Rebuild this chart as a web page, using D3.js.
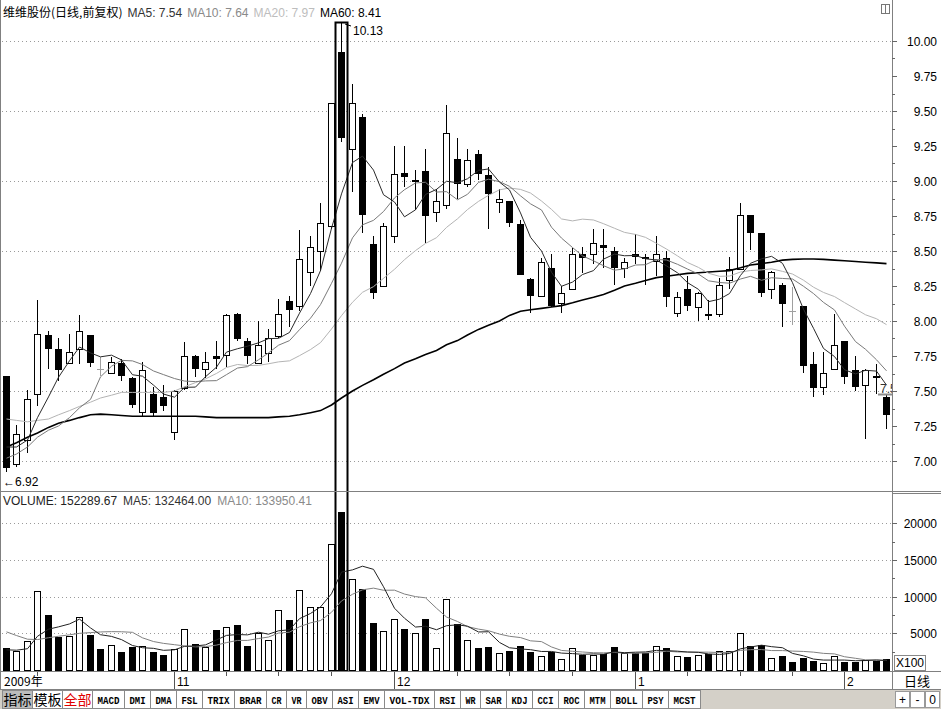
<!DOCTYPE html>
<html><head><meta charset="utf-8">
<script src="https://cdn.jsdelivr.net/npm/d3@7"></script>
<style>
body{margin:0;background:#fff;}
svg{display:block;font-family:"Liberation Sans",Arial,sans-serif;}
</style></head><body>
<svg id="c" width="941" height="709"></svg>
<script>
// ---------------- data ----------------
const opens  = [7.61,6.98,7.15,7.48,7.90,7.80,7.70,7.80,7.90,7.66,7.63,7.70,7.59,7.35,7.48,7.46,7.21,7.52,7.75,7.66,
                7.75,7.76,8.05,7.86,7.70,7.77,7.89,8.14,8.11,8.35,8.50,8.68,9.92,9.23,9.46,8.55,8.25,8.61,9.06,9.00,
                9.07,8.78,8.83,9.16,8.98,9.19,9.04,8.85,8.86,8.69,8.30,8.18,8.38,8.13,8.23,8.48,8.48,8.54,8.50,8.38,
                8.48,8.46,8.43,8.45,8.06,8.23,8.10,8.05,8.05,8.29,8.37,8.76,8.63,8.23,8.26,8.07,8.11,7.69,7.53,7.66,
                7.86,7.65,7.54,7.61,7.46];
const highs  = [7.61,7.26,7.51,8.15,7.93,7.88,7.91,8.04,7.90,7.74,7.74,7.73,7.60,7.71,7.53,7.54,7.51,7.85,7.76,7.78,
                7.86,8.05,8.06,7.88,8.00,7.94,8.16,8.18,8.65,8.61,8.84,9.56,10.13,9.69,9.48,8.61,8.70,9.25,9.25,9.08,
                9.23,8.94,9.54,9.31,9.23,9.22,9.10,8.94,8.86,8.72,8.31,8.45,8.48,8.25,8.52,8.53,8.66,8.66,8.53,8.45,
                8.62,8.48,8.61,8.50,8.21,8.32,8.21,8.15,8.31,8.46,8.84,8.76,8.63,8.36,8.27,8.24,8.11,7.78,7.78,8.05,
                7.86,7.75,7.66,7.69,7.47];
const lows   = [6.92,6.96,7.06,7.39,7.66,7.57,7.70,7.69,7.67,7.61,7.62,7.57,7.38,7.32,7.32,7.36,7.15,7.51,7.60,7.59,
                7.66,7.67,7.86,7.69,7.70,7.71,7.88,7.96,8.07,8.25,8.36,8.66,9.28,8.92,8.63,8.16,8.25,8.56,8.96,8.79,
                8.56,8.71,8.80,8.87,8.96,9.01,8.66,8.77,8.67,8.33,8.06,8.18,8.10,8.06,8.22,8.34,8.41,8.38,8.26,8.31,
                8.41,8.26,8.32,8.10,8.03,8.07,8.00,8.01,8.03,8.23,8.37,8.51,8.17,8.16,7.96,7.97,7.63,7.46,7.47,7.65,
                7.55,7.50,7.16,7.48,7.23];
const closes = [6.95,7.19,7.44,7.91,7.80,7.65,7.78,7.93,7.70,7.66,7.71,7.61,7.40,7.65,7.34,7.39,7.50,7.75,7.66,7.71,
                7.73,8.04,7.87,7.75,7.83,7.88,8.05,8.08,8.44,8.53,8.70,9.56,9.31,9.56,8.76,8.20,8.68,9.05,9.03,9.01,
                8.75,8.86,9.34,8.98,9.15,9.05,8.91,8.87,8.70,8.33,8.18,8.42,8.11,8.20,8.48,8.45,8.56,8.52,8.38,8.42,
                8.46,8.44,8.48,8.17,8.17,8.11,8.20,8.04,8.26,8.37,8.76,8.63,8.20,8.35,8.12,8.07,7.68,7.52,7.63,7.83,
                7.60,7.53,7.65,7.60,7.33];
const volumes = [2955,2636,3955,10773,7500,4545,4636,7227,4773,2864,3409,2455,3182,3273,2455,2045,2818,5545,3545,3182,
                 5455,5864,6136,3318,5000,4091,8182,6818,10909,8545,8545,17182,21591,12409,11045,6400,5318,6930,5591,5050,
                 6930,2955,9660,6227,4091,3000,3091,2364,2610,3290,2500,1860,2390,1480,2955,2020,2110,2200,3110,2364,
                 2364,2273,3273,2955,1955,1818,2045,2182,2591,2636,5000,3273,3409,1591,1909,1136,1591,1227,909,1909,
                 1136,1136,1364,1273,1523];
// MA values shown where the window reaches before the first visible day
const ma5Head  = [7.10,7.10,7.15,7.31];
const ma10Head = [7.02,7.05,7.10,7.17,7.22,7.25,7.31,7.38,7.44];
const ma20Head = [7.30,7.29,7.28,7.29,7.30,7.33,7.36,7.39,7.42,7.45,7.47,7.49,7.49,7.49,7.49,7.49,7.50,7.53,7.56];
const ma60Values = [7.10,7.13,7.17,7.20,7.24,7.27,7.29,7.31,7.33,7.335,7.33,7.325,7.32,7.32,7.32,7.32,7.32,7.32,7.32,7.315,
                    7.31,7.31,7.31,7.31,7.31,7.31,7.315,7.32,7.33,7.345,7.36,7.40,7.45,7.50,7.54,7.58,7.62,7.66,7.70,7.73,
                    7.76,7.79,7.83,7.86,7.90,7.94,7.97,8.00,8.04,8.07,8.08,8.09,8.10,8.11,8.13,8.15,8.17,8.19,8.22,8.25,
                    8.27,8.29,8.31,8.32,8.33,8.34,8.345,8.35,8.355,8.36,8.38,8.40,8.41,8.42,8.435,8.44,8.443,8.443,8.44,8.435,
                    8.43,8.425,8.42,8.415,8.41];
const volMa5Head  = [2750,2700,2900,4600];
const volMa10Head = [5200,4700,4200,4150,4400,4600,4800,5000,5100];
const priceTicks  = [7.00,7.25,7.50,7.75,8.00,8.25,8.50,8.75,9.00,9.25,9.50,9.75,10.00];
const priceGrid   = [7.0,7.5,8.0,8.5,9.0,9.5,10.0];
const volumeTicks = [5000,10000,15000,20000];
const monthLabels = ["11","12","1","2"];
const monthStartIdx = [16,37,60,80];
const weekTickIdx = [3,21,26,31,43,48,54,65,70,75];
const tabLabels = ["指标","模板","全部","MACD","DMI","DMA","FSL","TRIX","BRAR","CR","VR","OBV","ASI","EMV","VOL-TDX","RSI","WR","SAR","KDJ","CCI","ROC","MTM","BOLL","PSY","MCST"];
const stockTitle = "维维股份(日线,前复权)";
const maLegend = [["MA5: 7.54","#333"],["MA10: 7.64","#8a8a8a"],["MA20: 7.97","#bdbdbd"],["MA60: 8.41","#000"]];
const volLegend = [["VOLUME: 152289.67","#222"],["MA5: 132464.00","#333"],["MA10: 133950.41","#8a8a8a"]];
const highLabel = "10.13", lowLabel = "←6.92";

// ---------------- helpers ----------------
function movingAvg(vals, n, head){
  return vals.map((v,i)=> i < n-1 ? head[i] : d3.mean(vals.slice(i-n+1,i+1)));
}
const ma5 = movingAvg(closes,5,ma5Head), ma10 = movingAvg(closes,10,ma10Head), ma20 = movingAvg(closes,20,ma20Head);
const vma5 = movingAvg(volumes,5,volMa5Head), vma10 = movingAvg(volumes,10,volMa10Head);

const svg = d3.select("#c");
const N = closes.length;
const PR = 892; // right edge of plotting area
const x = d3.scaleBand().domain(d3.range(N)).range([0.76, 891.6]).padding(0);
const cx = i => Math.round(x(i) + x.bandwidth()/2);
const yP = d3.scaleLinear().domain([7,10]).range([461,41]);
const yV = d3.scaleLinear().domain([0,20000]).range([670,523.33]);
const gridCol = "#9a9a9a", frameCol = "#808080";

svg.append("rect").attr("width",941).attr("height",709).attr("fill","#fff");

const defs = svg.append("defs");
defs.append("clipPath").attr("id","mainClip").append("rect").attr("x",1).attr("y",18).attr("width",PR-1).attr("height",473);
defs.append("clipPath").attr("id","volClip").append("rect").attr("x",1).attr("y",493).attr("width",PR-1).attr("height",178);

// ---------------- grids ----------------
svg.append("g").selectAll("line").data(priceGrid).join("line")
  .attr("x1",2).attr("x2",PR).attr("y1",d=>Math.round(yP(d))+0.5).attr("y2",d=>Math.round(yP(d))+0.5)
  .attr("stroke",gridCol).attr("stroke-dasharray","1,3");
svg.append("g").selectAll("line").data(volumeTicks).join("line")
  .attr("x1",2).attr("x2",PR).attr("y1",d=>Math.round(yV(d))+0.5).attr("y2",d=>Math.round(yV(d))+0.5)
  .attr("stroke",gridCol).attr("stroke-dasharray","1,3");

// ---------------- candles ----------------
const gC = svg.append("g").attr("clip-path","url(#mainClip)").attr("shape-rendering","crispEdges");
const Y = v => Math.round(yP(v));
d3.range(N).forEach(i=>{
  const c = cx(i), o = opens[i], cl = closes[i], h = highs[i], l = lows[i];
  if (o === cl){
    gC.append("line").attr("x1",c+0.5).attr("x2",c+0.5).attr("y1",Y(h)).attr("y2",Y(l)).attr("stroke","#a0a0a0");
    gC.append("line").attr("x1",c-3).attr("x2",c+4).attr("y1",Y(cl)+0.5).attr("y2",Y(cl)+0.5).attr("stroke","#a0a0a0");
  } else if (cl > o){
    const top = Y(cl), bot = Y(o);
    gC.append("line").attr("x1",c+0.5).attr("x2",c+0.5).attr("y1",Y(h)).attr("y2",top).attr("stroke","#000");
    gC.append("line").attr("x1",c+0.5).attr("x2",c+0.5).attr("y1",bot).attr("y2",Y(l)).attr("stroke","#000");
    gC.append("rect").attr("x",c-3+0.5).attr("y",top+0.5).attr("width",6).attr("height",Math.max(bot-top,1))
      .attr("fill","#fff").attr("stroke","#000");
  } else {
    const top = Y(o), bot = Y(cl);
    gC.append("line").attr("x1",c+0.5).attr("x2",c+0.5).attr("y1",Y(h)).attr("y2",Y(l)).attr("stroke","#000");
    gC.append("rect").attr("x",c-3).attr("y",top).attr("width",7).attr("height",Math.max(bot-top,2)).attr("fill","#000");
  }
});

// ---------------- MA lines ----------------
const gL = svg.append("g").attr("clip-path","url(#mainClip)").attr("fill","none");
const lineP = d3.line().x((d,i)=>cx(i)+0.5).y(d=>yP(d));
gL.append("path").attr("d",lineP(ma60Values)).attr("stroke","#000").attr("stroke-width",1.6);
gL.append("path").attr("d",lineP(ma20)).attr("stroke","#b4b4b4").attr("stroke-width",1);
gL.append("path").attr("d",lineP(ma10)).attr("stroke","#7a7a7a").attr("stroke-width",1);
gL.append("path").attr("d",lineP(ma5)).attr("stroke","#2a2a2a").attr("stroke-width",1);

// ---------------- volume ----------------
const gV = svg.append("g").attr("clip-path","url(#volClip)").attr("shape-rendering","crispEdges");
d3.range(N).forEach(i=>{
  const c = cx(i), t = Math.round(yV(volumes[i])), b = Math.round(yV(0));
  if (closes[i] > opens[i]){
    gV.append("rect").attr("x",c-3+0.5).attr("y",t+0.5).attr("width",6).attr("height",b-t).attr("fill","#fff").attr("stroke","#000");
  } else {
    gV.append("rect").attr("x",c-3).attr("y",t).attr("width",7).attr("height",b-t+1).attr("fill","#000");
  }
});
const lineV = d3.line().x((d,i)=>cx(i)+0.5).y(d=>yV(d));
const gVL = svg.append("g").attr("clip-path","url(#volClip)").attr("fill","none");
gVL.append("path").attr("d",lineV(vma10)).attr("stroke","#808080");
gVL.append("path").attr("d",lineV(vma5)).attr("stroke","#222");

// ---------------- highlighted day box ----------------
const hi = closes.indexOf(d3.min([closes[32]])) ; // day with the highest high
const hIdx = highs.indexOf(d3.max(highs));
svg.append("rect").attr("x",cx(hIdx)-5.5).attr("y",Y(highs[hIdx])-0.5).attr("width",12).attr("height",Math.round(yV(0))-Y(highs[hIdx])+1.5)
  .attr("fill","none").attr("stroke","#000").attr("stroke-width",2);
svg.append("line").attr("x1",cx(hIdx)+4).attr("y1",Y(highs[hIdx])+1).attr("x2",cx(hIdx)+10).attr("y2",Y(highs[hIdx])+3).attr("stroke","#000");
svg.append("text").attr("x",cx(hIdx)+12).attr("y",Y(highs[hIdx])+12).attr("font-size",12).attr("fill","#000").text(highLabel);
const lIdx = lows.indexOf(d3.min(lows));
svg.append("text").attr("x",cx(lIdx)-3).attr("y",Y(lows[lIdx])+14).attr("font-size",12).attr("fill","#000").text(lowLabel);

// last price marker and clipped value label
svg.append("line").attr("x1",cx(N-1)-8).attr("x2",PR).attr("y1",Y(highs[N-1])-0.5).attr("y2",Y(highs[N-1])-0.5)
  .attr("stroke","#8c8c8c").attr("stroke-width",2);
svg.append("g").attr("clip-path","url(#mainClip)").append("text").attr("x",cx(N-1)-6).attr("y",Y(ma5[N-1])+8)
  .attr("font-size",12).attr("fill","#333").text(ma5[N-1].toFixed(2));

// ---------------- frame ----------------
const fr = svg.append("g").attr("stroke",frameCol).attr("shape-rendering","crispEdges");
fr.append("line").attr("x1",0.5).attr("x2",0.5).attr("y1",0).attr("y2",690);
fr.append("line").attr("x1",PR+0.5).attr("x2",PR+0.5).attr("y1",0).attr("y2",690);
fr.append("line").attr("x1",0).attr("x2",941).attr("y1",491.5).attr("y2",491.5);
fr.append("line").attr("x1",PR).attr("x2",941).attr("y1",493.5).attr("y2",493.5);
fr.append("line").attr("x1",0).attr("x2",941).attr("y1",671.5).attr("y2",671.5);
fr.append("line").attr("x1",0).attr("x2",941).attr("y1",689.5).attr("y2",689.5);

// ---------------- right axes ----------------
const ax = svg.append("g").attr("font-size",12).attr("fill","#000");
priceTicks.forEach(t=>{
  ax.append("line").attr("x1",PR).attr("x2",PR+5).attr("y1",Y(t)+0.5).attr("y2",Y(t)+0.5).attr("stroke","#666");
  ax.append("text").attr("x",937).attr("y",Y(t)+4.5).attr("text-anchor","end").text(t.toFixed(2));
});
d3.pairs(priceTicks).forEach(([a,b])=>{
  const m = Y((a+b)/2)+0.5;
  ax.append("line").attr("x1",PR).attr("x2",PR+3).attr("y1",m).attr("y2",m).attr("stroke","#666");
});
volumeTicks.forEach(t=>{
  const yy = Math.round(yV(t))+0.5;
  ax.append("line").attr("x1",PR).attr("x2",PR+5).attr("y1",yy).attr("y2",yy).attr("stroke","#666");
  ax.append("text").attr("x",937).attr("y",yy+4).attr("text-anchor","end").text(t);
  const m = Math.round(yV(t-2500))+0.5;
  ax.append("line").attr("x1",PR).attr("x2",PR+3).attr("y1",m).attr("y2",m).attr("stroke","#666");
});
svg.append("rect").attr("x",894.5).attr("y",655.5).attr("width",31).attr("height",15).attr("fill","#fff").attr("stroke","#888");
svg.append("text").attr("x",896).attr("y",667).attr("font-size",12).text("X100");

// small window icon
svg.append("rect").attr("x",881.5).attr("y",4.5).attr("width",8).attr("height",9).attr("fill","none").attr("stroke","#777");
svg.append("line").attr("x1",885.5).attr("x2",885.5).attr("y1",4).attr("y2",14).attr("stroke","#777");

// ---------------- legends ----------------
const hdr = svg.append("text").attr("x",3).attr("y",17).attr("font-size",12);
hdr.append("tspan").attr("font-family","'Noto Sans CJK SC',sans-serif").attr("fill","#000").text(stockTitle);
maLegend.forEach(([t,c])=> hdr.append("tspan").attr("dx",5).attr("fill",c).text(t));
const vh = svg.append("text").attr("x",3).attr("y",505).attr("font-size",12);
volLegend.forEach(([t,c],i)=> vh.append("tspan").attr("dx",i?6:0).attr("fill",c).text(t));

// ---------------- date row ----------------
const dr = svg.append("g").attr("font-size",12).attr("fill","#000");
dr.append("text").attr("x",4).attr("y",686).attr("font-family","'Noto Sans CJK SC',sans-serif").text("2009年");
weekTickIdx.forEach(i=> dr.append("line").attr("x1",cx(i)+0.5).attr("x2",cx(i)+0.5).attr("y1",672).attr("y2",676).attr("stroke","#555"));
monthStartIdx.forEach((i,k)=>{
  dr.append("line").attr("x1",cx(i)+0.5).attr("x2",cx(i)+0.5).attr("y1",672).attr("y2",689).attr("stroke","#555");
  dr.append("text").attr("x",cx(i)+3).attr("y",686).text(monthLabels[k]);
});
dr.append("text").attr("x",904).attr("y",686).attr("font-family","'Noto Sans CJK SC',sans-serif").attr("font-size",13).text("日线");

// ---------------- tab bar ----------------
svg.append("rect").attr("x",0).attr("y",690).attr("width",941).attr("height",19).attr("fill","#d4d0c8");
const tb = svg.append("g").attr("shape-rendering","crispEdges");
let tx = 2;
tabLabels.forEach((t,i)=>{
  const cjk = /[\u4e00-\u9fff]/.test(t);
  const w = cjk ? 30 : 6*t.length + 8;
  tb.append("rect").attr("x",tx+0.5).attr("y",690.5).attr("width",w).attr("height",18)
    .attr("fill", i===0 ? "#bcbcbc" : "#fff").attr("stroke","#8a8a8a");
  const tt = tb.append("text").attr("x",tx+w/2+0.5).attr("y",cjk?705:704).attr("text-anchor","middle")
    .attr("fill", i===2 ? "#e00000" : "#000");
  if (cjk){ tt.attr("font-family","'Noto Sans CJK SC',sans-serif").attr("font-size",14); }
  else { tt.attr("font-family","'Liberation Mono',monospace").attr("font-size",11).attr("font-weight","bold")
           .attr("textLength",6*t.length-2).attr("lengthAdjust","spacingAndGlyphs"); }
  tt.text(t);
  tx += w;
});
["+","-","0"].forEach((t,i)=>{
  tb.append("rect").attr("x",895.5+i*15).attr("y",691.5).attr("width",14).attr("height",16).attr("fill","#fff").attr("stroke","#999");
  svg.append("text").attr("x",902.5+i*15).attr("y",704).attr("text-anchor","middle").attr("font-size",12).text(t);
});
</script>
</body></html>
